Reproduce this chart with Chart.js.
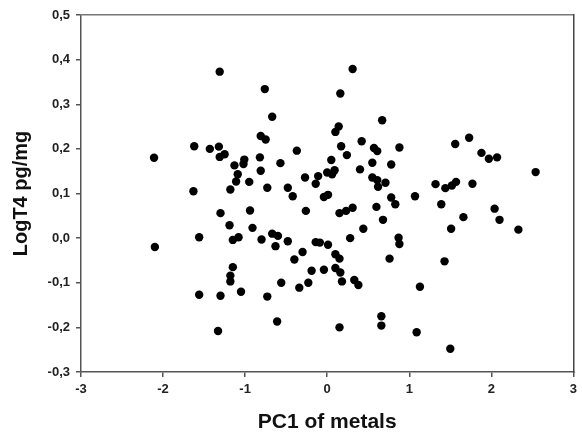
<!DOCTYPE html>
<html>
<head>
<meta charset="utf-8">
<script src="https://cdn.jsdelivr.net/npm/chart.js@4.4.0/dist/chart.umd.min.js"></script>
<style>
  html, body { margin: 0; padding: 0; background: #fff; }
  #wrap { width: 582px; height: 440px; }
</style>
</head>
<body>
<div id="wrap"><canvas id="scatterPC1"></canvas></div>
<script>
// PC1 of metals (x) and LogT4 pg/mg (y)
var pc1 = [
  -1.31, -0.76, -0.67, -0.81, -0.75, -1.62, -1.43, -1.32, -1.31, -1.25,
  -2.11, -0.37, -1.01, -1.13, -1.02, -0.82, -0.81, -0.57, -1.09, -1.11,
  -0.95, -0.73, -0.48, -0.42, -1.18, -1.63, -0.27, -0.11, 0.00, 0.09,
  -0.14, 0.05, -0.04, 0.01, 0.10, 0.14, 0.16, 0.17, 0.31, 0.67,
  0.42, 0.57, 0.61, 0.88, 0.24, 0.55, 0.78, 0.40, 0.06, 0.55,
  0.61, 0.71, 0.62, 0.78, 1.07, 1.56, 1.73, 1.88, 1.97, 2.07,
  2.54, 1.32, 1.44, 1.52, 1.57, 1.77,
  -1.30, -0.94, -0.26, 0.15, 0.23, 0.31, 0.60, 0.68, 0.44, 0.28,
  0.87, 0.88, -1.19, -0.91, -1.56, -2.10, -1.15, -1.08, -0.80, -0.67,
  -0.60, -0.63, -0.48, -0.30, -0.40, -0.14, -0.09, 0.01, 0.10, 0.15,
  -0.19, -0.04, 0.10, 0.16, 0.18, 0.33, 0.38, -1.15, -1.18, -1.18,
  -0.56, -0.23, -0.34, -1.56, -1.30, -1.05, -0.73, -0.61, -1.33, 0.15,
  0.66, 0.66, 1.09, 1.50, 0.83, 1.39, 0.76, 1.13, 1.43, 1.66,
  1.51, 2.04, 2.10, 2.33
];
var logT4 = [
  0.373, 0.334, 0.272, 0.229, 0.221, 0.206, 0.200, 0.205, 0.182, 0.188,
  0.180, 0.196, 0.176, 0.163, 0.166, 0.181, 0.151, 0.168, 0.143, 0.127,
  0.126, 0.113, 0.113, 0.094, 0.109, 0.105, 0.136, 0.139, 0.147, 0.152,
  0.122, 0.175, 0.092, 0.097, 0.238, 0.250, 0.324, 0.206, 0.379, 0.264,
  0.217, 0.202, 0.195, 0.203, 0.186, 0.169, 0.165, 0.154, 0.143, 0.136,
  0.130, 0.124, 0.115, 0.091, 0.094, 0.211, 0.225, 0.191, 0.178, 0.181,
  0.148, 0.121, 0.112, 0.118, 0.126, 0.122,
  0.056, 0.062, 0.061, 0.056, 0.061, 0.068, 0.070, 0.041, 0.021, 0.000,
  0.001, -0.013, 0.029, 0.023, 0.002, -0.020, -0.004, 0.002, -0.003, 0.010,
  0.005, -0.018, -0.007, -0.031, -0.048, -0.009, -0.010, -0.015, -0.036, -0.046,
  -0.073, -0.071, -0.067, -0.077, -0.097, -0.094, -0.105, -0.065, -0.084, -0.097,
  -0.100, -0.100, -0.111, -0.127, -0.129, -0.120, -0.131, -0.187, -0.208, -0.200,
  -0.175, -0.196, -0.211, -0.248, 0.076, 0.076, -0.046, -0.109, -0.052, 0.047,
  0.021, 0.066, 0.041, 0.019
];

var xMin = -3, xMax = 3, xStep = 1;
var yMin = -0.3, yMax = 0.5, yStep = 0.1;

var points = [];
for (var i = 0; i < pc1.length; i++) {
  points.push({x: pc1[i], y: logT4[i]});
}

var labelFont = {family: "'Liberation Sans', Arial, sans-serif", size: 13, weight: 'bold'};
var titleFont = {family: "'Liberation Sans', Arial, sans-serif", size: 21, weight: 'bold'};

var ctx = document.getElementById("scatterPC1");
var scatter = new Chart(ctx, {
  type: 'scatter',
  data: {
    datasets: [{
      label: 'LogT4',
      data: points,
      backgroundColor: '#000',
      borderWidth: 0,
      pointRadius: 4.2,
      pointHoverRadius: 4.2
    }]
  },
  options: {
    responsive: true,
    maintainAspectRatio: false,
    animation: false,
    layout: {padding: 0},
    plugins: {
      legend: {display: false},
      tooltip: {enabled: false}
    },
    scales: {
      x: {
        type: 'linear',
        position: 'bottom',
        min: xMin,
        max: xMax,
        afterFit: function(scale) { scale.height = 68; },
        ticks: {
          stepSize: xStep,
          color: '#222',
          font: labelFont,
          padding: 5,
          maxRotation: 0
        },
        grid: {
          drawOnChartArea: false,
          drawTicks: true,
          tickLength: 5,
          color: '#555',
          lineWidth: 1.5
        },
        border: {display: true, color: '#555', width: 1.5},
        title: {
          display: true,
          text: 'PC1 of metals',
          color: '#111',
          font: titleFont,
          padding: {top: 0, bottom: 5}
        }
      },
      y: {
        type: 'linear',
        position: 'left',
        min: yMin,
        max: yMax,
        afterFit: function(scale) { scale.width = 81; },
        ticks: {
          stepSize: yStep,
          color: '#222',
          font: labelFont,
          padding: 6,
          callback: function(v) { return v.toFixed(1).replace('.', ','); }
        },
        grid: {
          drawOnChartArea: false,
          drawTicks: true,
          tickLength: 5,
          color: '#555',
          lineWidth: 1.5
        },
        border: {display: true, color: '#555', width: 1.5},
        title: {
          display: true,
          text: 'LogT4 pg/mg',
          color: '#111',
          font: {family: "'Liberation Sans', Arial, sans-serif", size: 20, weight: 'bold'},
          padding: {top: 9, bottom: 0}
        }
      },
      xTop: {
        type: 'linear',
        position: 'top',
        min: xMin,
        max: xMax,
        afterFit: function(scale) { scale.height = 15; },
        ticks: {display: false},
        grid: {display: false},
        border: {display: true, color: '#777', width: 1.5}
      },
      yRight: {
        type: 'linear',
        position: 'right',
        min: yMin,
        max: yMax,
        afterFit: function(scale) { scale.width = 7; },
        ticks: {display: false},
        grid: {display: false},
        border: {display: true, color: '#444', width: 1.5}
      }
    }
  }
});
</script>
</body>
</html>
